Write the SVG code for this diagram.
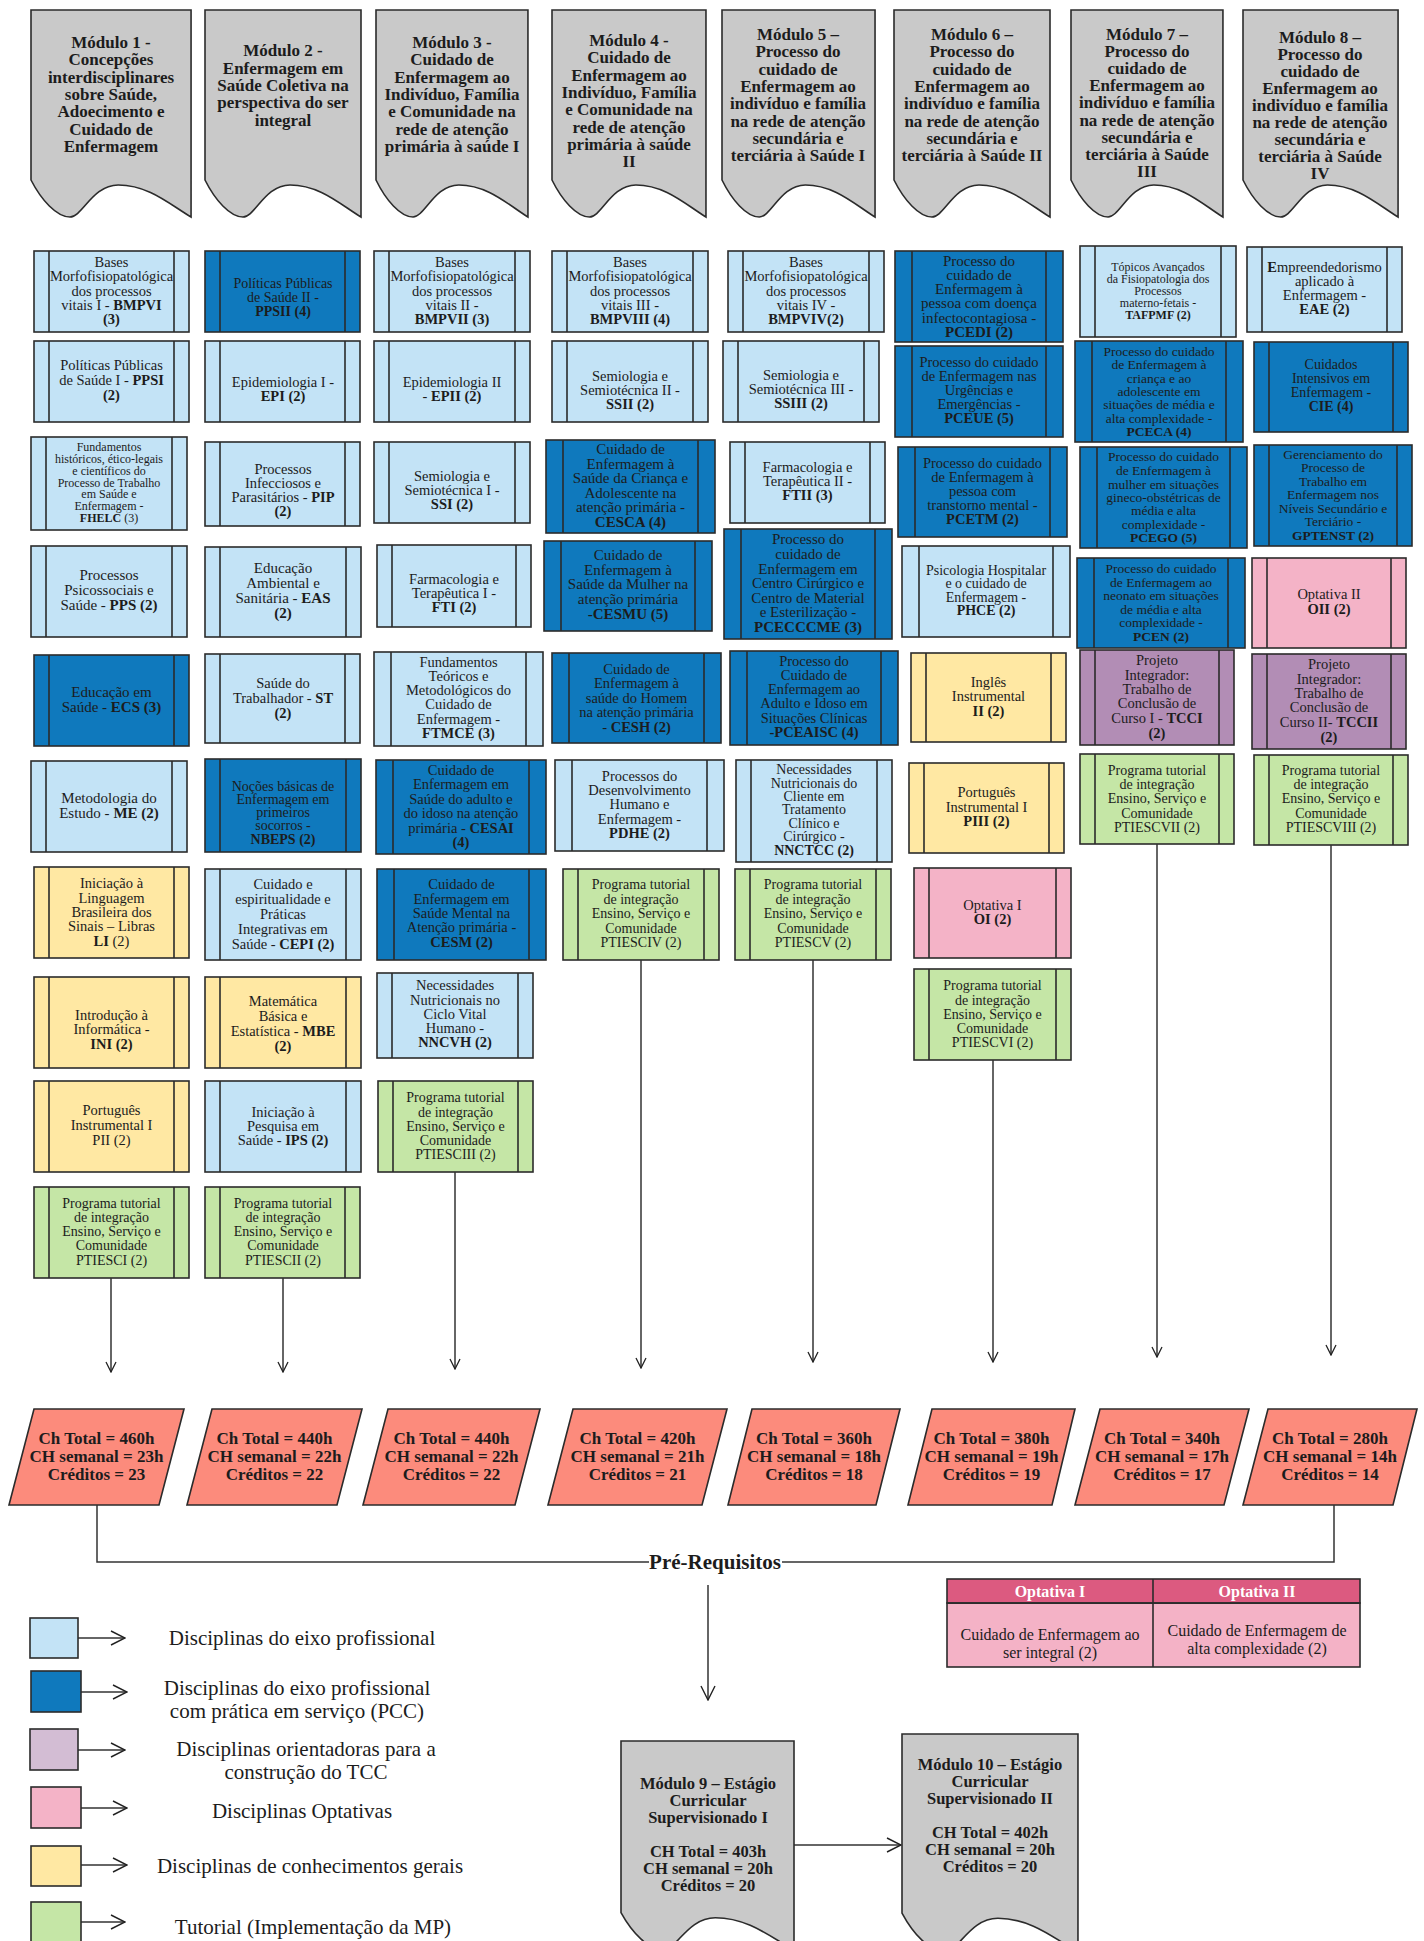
<svg xmlns="http://www.w3.org/2000/svg" width="1424" height="1941" viewBox="0 0 1424 1941">
<style>
.lb{fill:#c3e3f6}.db{fill:#0f79bd}.yl{fill:#ffe8a3}.gr{fill:#c5e6a6}.pk{fill:#f4b3c7}.pu{fill:#b28db5}.li{fill:#d3bdd4}
rect,.in,.hd,.pg{stroke:#2b2b2b;stroke-width:1.6}
.in{fill:none}
.hd{fill:#c9c9c9}
.pg{fill:#fc8b7c}
.t{font-family:"Liberation Serif","Times New Roman",serif;fill:#1c1c1c;text-anchor:middle}
.b{font-weight:bold}
.cn{stroke:#333;stroke-width:1.5;fill:none}
</style>
<defs>
<marker id="ah" viewBox="0 0 12 12" refX="11" refY="6" markerWidth="12" markerHeight="12" markerUnits="userSpaceOnUse" orient="auto"><path d="M1,1 L11,6 L1,11" fill="none" stroke="#222" stroke-width="1.3"/></marker>
<marker id="ahL" viewBox="0 0 16 16" refX="15" refY="8" markerWidth="16" markerHeight="16" markerUnits="userSpaceOnUse" orient="auto"><path d="M1,1 L15,8 L1,15" fill="none" stroke="#222" stroke-width="1.4"/></marker>
</defs>

<!-- Module headers -->
<g id="mod1"><path class="hd" vector-effect="non-scaling-stroke" transform="translate(31,10) scale(1.026,1)" d="M0,0 H156 V207 C136,195 115,175 85,175 C60,175 50,207 38,207 C25,207 10,190 0,170 Z"/>
<text class="t b" font-size="17"><tspan x="111" y="48">Módulo 1 -</tspan><tspan x="111" y="65">Concepções</tspan><tspan x="111" y="83">interdisciplinares</tspan><tspan x="111" y="100">sobre Saúde,</tspan><tspan x="111" y="117">Adoecimento e</tspan><tspan x="111" y="135">Cuidado de</tspan><tspan x="111" y="152">Enfermagem</tspan></text></g>
<g id="mod2"><path class="hd" vector-effect="non-scaling-stroke" transform="translate(205,10)" d="M0,0 H156 V207 C136,195 115,175 85,175 C60,175 50,207 38,207 C25,207 10,190 0,170 Z"/>
<text class="t b" font-size="17"><tspan x="283" y="56">Módulo 2 -</tspan><tspan x="283" y="74">Enfermagem em</tspan><tspan x="283" y="91">Saúde Coletiva na</tspan><tspan x="283" y="108">perspectiva do ser</tspan><tspan x="283" y="126">integral</tspan></text></g>
<g id="mod3"><path class="hd" vector-effect="non-scaling-stroke" transform="translate(376,10) scale(0.974,1)" d="M0,0 H156 V207 C136,195 115,175 85,175 C60,175 50,207 38,207 C25,207 10,190 0,170 Z"/>
<text class="t b" font-size="17"><tspan x="452" y="48">Módulo 3 -</tspan><tspan x="452" y="65">Cuidado de</tspan><tspan x="452" y="83">Enfermagem ao</tspan><tspan x="452" y="100">Indivíduo, Família</tspan><tspan x="452" y="117">e Comunidade na</tspan><tspan x="452" y="135">rede de atenção</tspan><tspan x="452" y="152">primária à saúde I</tspan></text></g>
<g id="mod4"><path class="hd" vector-effect="non-scaling-stroke" transform="translate(552,10) scale(0.987,1)" d="M0,0 H156 V207 C136,195 115,175 85,175 C60,175 50,207 38,207 C25,207 10,190 0,170 Z"/>
<text class="t b" font-size="17"><tspan x="629" y="46">Módulo 4 -</tspan><tspan x="629" y="63">Cuidado de</tspan><tspan x="629" y="81">Enfermagem ao</tspan><tspan x="629" y="98">Indivíduo, Família</tspan><tspan x="629" y="115">e Comunidade na</tspan><tspan x="629" y="133">rede de atenção</tspan><tspan x="629" y="150">primária à saúde</tspan><tspan x="629" y="167">II</tspan></text></g>
<g id="mod5"><path class="hd" vector-effect="non-scaling-stroke" transform="translate(722,10) scale(0.981,1)" d="M0,0 H156 V207 C136,195 115,175 85,175 C60,175 50,207 38,207 C25,207 10,190 0,170 Z"/>
<text class="t b" font-size="17"><tspan x="798" y="40">Módulo 5 –</tspan><tspan x="798" y="57">Processo do</tspan><tspan x="798" y="75">cuidado de</tspan><tspan x="798" y="92">Enfermagem ao</tspan><tspan x="798" y="109">indivíduo e família</tspan><tspan x="798" y="127">na rede de atenção</tspan><tspan x="798" y="144">secundária e</tspan><tspan x="798" y="161">terciária à Saúde I</tspan></text></g>
<g id="mod6"><path class="hd" vector-effect="non-scaling-stroke" transform="translate(894,10)" d="M0,0 H156 V207 C136,195 115,175 85,175 C60,175 50,207 38,207 C25,207 10,190 0,170 Z"/>
<text class="t b" font-size="17"><tspan x="972" y="40">Módulo 6 –</tspan><tspan x="972" y="57">Processo do</tspan><tspan x="972" y="75">cuidado de</tspan><tspan x="972" y="92">Enfermagem ao</tspan><tspan x="972" y="109">indivíduo e família</tspan><tspan x="972" y="127">na rede de atenção</tspan><tspan x="972" y="144">secundária e</tspan><tspan x="972" y="161">terciária à Saúde II</tspan></text></g>
<g id="mod7"><path class="hd" vector-effect="non-scaling-stroke" transform="translate(1071,10) scale(0.974,1)" d="M0,0 H156 V207 C136,195 115,175 85,175 C60,175 50,207 38,207 C25,207 10,190 0,170 Z"/>
<text class="t b" font-size="17"><tspan x="1147" y="40">Módulo 7 –</tspan><tspan x="1147" y="57">Processo do</tspan><tspan x="1147" y="74">cuidado de</tspan><tspan x="1147" y="91">Enfermagem ao</tspan><tspan x="1147" y="108">indivíduo e família</tspan><tspan x="1147" y="126">na rede de atenção</tspan><tspan x="1147" y="143">secundária e</tspan><tspan x="1147" y="160">terciária à Saúde</tspan><tspan x="1147" y="177">III</tspan></text></g>
<g id="mod8"><path class="hd" vector-effect="non-scaling-stroke" transform="translate(1243,10) scale(0.994,1)" d="M0,0 H156 V207 C136,195 115,175 85,175 C60,175 50,207 38,207 C25,207 10,190 0,170 Z"/>
<text class="t b" font-size="17"><tspan x="1320" y="43">Módulo 8 –</tspan><tspan x="1320" y="60">Processo do</tspan><tspan x="1320" y="77">cuidado de</tspan><tspan x="1320" y="94">Enfermagem ao</tspan><tspan x="1320" y="111">indivíduo e família</tspan><tspan x="1320" y="128">na rede de atenção</tspan><tspan x="1320" y="145">secundária e</tspan><tspan x="1320" y="162">terciária à Saúde</tspan><tspan x="1320" y="179">IV</tspan></text></g>

<!-- Column 1 -->
<g id="bmpvi"><rect class="lb" x="34" y="251" width="155" height="81"/><path class="in" d="M49,251V332M174,251V332"/><text class="t" font-size="14.5"><tspan x="111.5" y="267">Bases</tspan><tspan x="111.5" y="281">Morfofisiopatológica</tspan><tspan x="111.5" y="296">dos processos</tspan><tspan x="111.5" y="310">vitais I - <tspan class="b">BMPVI</tspan></tspan><tspan x="111.5" y="324" class="b">(3)</tspan></text></g>
<g id="ppsi"><rect class="lb" x="34" y="341" width="155" height="81"/><path class="in" d="M49,341V422M174,341V422"/><text class="t" font-size="14.5"><tspan x="111.5" y="370">Políticas Públicas</tspan><tspan x="111.5" y="385">de Saúde I - <tspan class="b">PPSI</tspan></tspan><tspan x="111.5" y="400" class="b">(2)</tspan></text></g>
<g id="fhelc"><rect class="lb" x="31" y="437" width="156" height="93"/><path class="in" d="M46,437V530M172,437V530"/><text class="t" font-size="12"><tspan x="109" y="451">Fundamentos</tspan><tspan x="109" y="463">históricos, ético-legais</tspan><tspan x="109" y="475">e científicos do</tspan><tspan x="109" y="487">Processo de Trabalho</tspan><tspan x="109" y="498">em Saúde e</tspan><tspan x="109" y="510">Enfermagem -</tspan><tspan x="109" y="522"><tspan class="b">FHELC</tspan> (3)</tspan></text></g>
<g id="pps"><rect class="lb" x="31" y="546" width="156" height="91"/><path class="in" d="M46,546V637M172,546V637"/><text class="t" font-size="15"><tspan x="109" y="580">Processos</tspan><tspan x="109" y="595">Psicossociais e</tspan><tspan x="109" y="610">Saúde - <tspan class="b">PPS (2)</tspan></tspan></text></g>
<g id="ecs"><rect class="db" x="34" y="655" width="155" height="91"/><path class="in" d="M49,655V746M174,655V746"/><text class="t" font-size="15"><tspan x="111.5" y="697">Educação em</tspan><tspan x="111.5" y="712">Saúde - <tspan class="b">ECS (3)</tspan></tspan></text></g>
<g id="me"><rect class="lb" x="31" y="761" width="156" height="91"/><path class="in" d="M46,761V852M172,761V852"/><text class="t" font-size="15"><tspan x="109" y="803">Metodologia do</tspan><tspan x="109" y="818">Estudo  - <tspan class="b">ME (2)</tspan></tspan></text></g>
<g id="li"><rect class="yl" x="34" y="867" width="155" height="91"/><path class="in" d="M49,867V958M174,867V958"/><text class="t" font-size="14.5"><tspan x="111.5" y="888">Iniciação à</tspan><tspan x="111.5" y="903">Linguagem</tspan><tspan x="111.5" y="917">Brasileira dos</tspan><tspan x="111.5" y="931">Sinais – Libras</tspan><tspan x="111.5" y="946"><tspan class="b">LI</tspan> (2)</tspan></text></g>
<g id="ini"><rect class="yl" x="34" y="977" width="155" height="91"/><path class="in" d="M49,977V1068M174,977V1068"/><text class="t" font-size="14.5"><tspan x="111.5" y="1020">Introdução à</tspan><tspan x="111.5" y="1034">Informática -</tspan><tspan x="111.5" y="1049" class="b">INI (2)</tspan></text></g>
<g id="pii"><rect class="yl" x="34" y="1081" width="155" height="91"/><path class="in" d="M49,1081V1172M174,1081V1172"/><text class="t" font-size="14.5"><tspan x="111.5" y="1115">Português</tspan><tspan x="111.5" y="1130">Instrumental I</tspan><tspan x="111.5" y="1145">PII (2)</tspan></text></g>
<g id="ptiesci"><rect class="gr" x="34" y="1187" width="155" height="91"/><path class="in" d="M49,1187V1278M174,1187V1278"/><text class="t" font-size="14"><tspan x="111.5" y="1208">Programa tutorial</tspan><tspan x="111.5" y="1222">de integração</tspan><tspan x="111.5" y="1236">Ensino, Serviço e</tspan><tspan x="111.5" y="1250">Comunidade</tspan><tspan x="111.5" y="1265">PTIESCI (2)</tspan></text></g>

<!-- Column 2 -->
<g id="ppsii"><rect class="db" x="205" y="251" width="155" height="81"/><path class="in" d="M220,251V332M345,251V332"/><text class="t" font-size="14"><tspan x="283" y="288">Políticas Públicas</tspan><tspan x="283" y="302">de Saúde II -</tspan><tspan x="283" y="316" class="b">PPSII (4)</tspan></text></g>
<g id="epi"><rect class="lb" x="205" y="341" width="155" height="81"/><path class="in" d="M220,341V422M345,341V422"/><text class="t" font-size="14.5"><tspan x="283" y="387">Epidemiologia I -</tspan><tspan x="283" y="401" class="b">EPI (2)</tspan></text></g>
<g id="pip"><rect class="lb" x="205" y="442" width="155" height="84"/><path class="in" d="M220,442V526M345,442V526"/><text class="t" font-size="14.5"><tspan x="283" y="474">Processos</tspan><tspan x="283" y="488">Infecciosos e</tspan><tspan x="283" y="502">Parasitários - <tspan class="b">PIP</tspan></tspan><tspan x="283" y="516" class="b">(2)</tspan></text></g>
<g id="eas"><rect class="lb" x="205" y="547" width="156" height="90"/><path class="in" d="M220,547V637M346,547V637"/><text class="t" font-size="15"><tspan x="283" y="573">Educação</tspan><tspan x="283" y="588">Ambiental e</tspan><tspan x="283" y="603">Sanitária  - <tspan class="b">EAS</tspan></tspan><tspan x="283" y="618" class="b">(2)</tspan></text></g>
<g id="st"><rect class="lb" x="205" y="654" width="155" height="89"/><path class="in" d="M220,654V743M345,654V743"/><text class="t" font-size="14.5"><tspan x="283" y="688">Saúde do</tspan><tspan x="283" y="703">Trabalhador - <tspan class="b">ST</tspan></tspan><tspan x="283" y="718" class="b">(2)</tspan></text></g>
<g id="nbeps"><rect class="db" x="205" y="759" width="156" height="93"/><path class="in" d="M220,759V852M346,759V852"/><text class="t" font-size="14"><tspan x="283" y="791">Noções básicas de</tspan><tspan x="283" y="804">Enfermagem em</tspan><tspan x="283" y="817">primeiros</tspan><tspan x="283" y="830">socorros -</tspan><tspan x="283" y="844" class="b">NBEPS (2)</tspan></text></g>
<g id="cepi"><rect class="lb" x="205" y="869" width="156" height="91"/><path class="in" d="M220,869V960M346,869V960"/><text class="t" font-size="14.5"><tspan x="283" y="889">Cuidado e</tspan><tspan x="283" y="904">espiritualidade e</tspan><tspan x="283" y="919">Práticas</tspan><tspan x="283" y="934">Integrativas em</tspan><tspan x="283" y="949">Saúde - <tspan class="b">CEPI (2)</tspan></tspan></text></g>
<g id="mbe"><rect class="yl" x="205" y="977" width="156" height="91"/><path class="in" d="M220,977V1068M346,977V1068"/><text class="t" font-size="14.5"><tspan x="283" y="1006">Matemática</tspan><tspan x="283" y="1021">Básica e</tspan><tspan x="283" y="1036">Estatística - <tspan class="b">MBE</tspan></tspan><tspan x="283" y="1051" class="b">(2)</tspan></text></g>
<g id="ips"><rect class="lb" x="205" y="1081" width="156" height="91"/><path class="in" d="M220,1081V1172M346,1081V1172"/><text class="t" font-size="14.5"><tspan x="283" y="1117">Iniciação à</tspan><tspan x="283" y="1131">Pesquisa em</tspan><tspan x="283" y="1145">Saúde - <tspan class="b">IPS (2)</tspan></tspan></text></g>
<g id="ptiescii"><rect class="gr" x="205" y="1187" width="155" height="91"/><path class="in" d="M220,1187V1278M345,1187V1278"/><text class="t" font-size="14"><tspan x="283" y="1208">Programa tutorial</tspan><tspan x="283" y="1222">de integração</tspan><tspan x="283" y="1236">Ensino, Serviço e</tspan><tspan x="283" y="1250">Comunidade</tspan><tspan x="283" y="1265">PTIESCII (2)</tspan></text></g>

<!-- Column 3 -->
<g id="bmpvii"><rect class="lb" x="374" y="251" width="156" height="81"/><path class="in" d="M389,251V332M515,251V332"/><text class="t" font-size="14.5"><tspan x="452" y="267">Bases</tspan><tspan x="452" y="281">Morfofisiopatológica</tspan><tspan x="452" y="296">dos processos</tspan><tspan x="452" y="310">vitais II -</tspan><tspan x="452" y="324" class="b">BMPVII (3)</tspan></text></g>
<g id="epii"><rect class="lb" x="374" y="341" width="156" height="81"/><path class="in" d="M389,341V422M515,341V422"/><text class="t" font-size="14.5"><tspan x="452" y="387">Epidemiologia II</tspan><tspan x="452" y="401">- <tspan class="b">EPII (2)</tspan></tspan></text></g>
<g id="ssi"><rect class="lb" x="374" y="442" width="156" height="81"/><path class="in" d="M389,442V523M515,442V523"/><text class="t" font-size="14.5"><tspan x="452" y="481">Semiologia e</tspan><tspan x="452" y="495">Semiotécnica I -</tspan><tspan x="452" y="509" class="b">SSI (2)</tspan></text></g>
<g id="fti"><rect class="lb" x="377" y="545" width="154" height="82"/><path class="in" d="M392,545V627M516,545V627"/><text class="t" font-size="14.5"><tspan x="454" y="584">Farmacologia e</tspan><tspan x="454" y="598">Terapêutica I -</tspan><tspan x="454" y="612" class="b">FTI (2)</tspan></text></g>
<g id="ftmce"><rect class="lb" x="374" y="652" width="169" height="94"/><path class="in" d="M391,652V746M526,652V746"/><text class="t" font-size="14.5"><tspan x="458.5" y="667">Fundamentos</tspan><tspan x="458.5" y="681">Teóricos e</tspan><tspan x="458.5" y="695">Metodológicos do</tspan><tspan x="458.5" y="709">Cuidado de</tspan><tspan x="458.5" y="724">Enfermagem -</tspan><tspan x="458.5" y="738" class="b">FTMCE (3)</tspan></text></g>
<g id="cesai"><rect class="db" x="376" y="760" width="170" height="94"/><path class="in" d="M393,760V854M529,760V854"/><text class="t" font-size="14.5"><tspan x="461" y="775">Cuidado de</tspan><tspan x="461" y="789">Enfermagem em</tspan><tspan x="461" y="804">Saúde do adulto e</tspan><tspan x="461" y="818">do idoso na atenção</tspan><tspan x="461" y="833">primária - <tspan class="b">CESAI</tspan></tspan><tspan x="461" y="847" class="b">(4)</tspan></text></g>
<g id="cesm"><rect class="db" x="377" y="869" width="169" height="91"/><path class="in" d="M394,869V960M529,869V960"/><text class="t" font-size="14.5"><tspan x="461.5" y="889">Cuidado de</tspan><tspan x="461.5" y="904">Enfermagem em</tspan><tspan x="461.5" y="918">Saúde Mental na</tspan><tspan x="461.5" y="932">Atenção primária -</tspan><tspan x="461.5" y="947" class="b">CESM (2)</tspan></text></g>
<g id="nncvh"><rect class="lb" x="377" y="973" width="156" height="85"/><path class="in" d="M392,973V1058M518,973V1058"/><text class="t" font-size="14.5"><tspan x="455" y="990">Necessidades</tspan><tspan x="455" y="1005">Nutricionais no</tspan><tspan x="455" y="1019">Ciclo Vital</tspan><tspan x="455" y="1033">Humano -</tspan><tspan x="455" y="1047" class="b">NNCVH (2)</tspan></text></g>
<g id="ptiesciii"><rect class="gr" x="378" y="1081" width="155" height="91"/><path class="in" d="M393,1081V1172M518,1081V1172"/><text class="t" font-size="14"><tspan x="455.5" y="1102">Programa tutorial</tspan><tspan x="455.5" y="1117">de integração</tspan><tspan x="455.5" y="1131">Ensino, Serviço e</tspan><tspan x="455.5" y="1145">Comunidade</tspan><tspan x="455.5" y="1159">PTIESCIII (2)</tspan></text></g>

<!-- Column 4 -->
<g id="bmpviii"><rect class="lb" x="552" y="251" width="156" height="81"/><path class="in" d="M567,251V332M693,251V332"/><text class="t" font-size="14.5"><tspan x="630" y="267">Bases</tspan><tspan x="630" y="281">Morfofisiopatológica</tspan><tspan x="630" y="296">dos processos</tspan><tspan x="630" y="310">vitais III -</tspan><tspan x="630" y="324" class="b">BMPVIII (4)</tspan></text></g>
<g id="ssii"><rect class="lb" x="552" y="341" width="156" height="81"/><path class="in" d="M567,341V422M693,341V422"/><text class="t" font-size="14.5"><tspan x="630" y="381">Semiologia e</tspan><tspan x="630" y="395">Semiotécnica II -</tspan><tspan x="630" y="409" class="b">SSII (2)</tspan></text></g>
<g id="cesca"><rect class="db" x="546" y="440" width="169" height="93"/><path class="in" d="M563,440V533M698,440V533"/><text class="t" font-size="15"><tspan x="630.5" y="454">Cuidado de</tspan><tspan x="630.5" y="469">Enfermagem à</tspan><tspan x="630.5" y="483">Saúde da Criança e</tspan><tspan x="630.5" y="498">Adolescente na</tspan><tspan x="630.5" y="512">atenção primária -</tspan><tspan x="630.5" y="527" class="b">CESCA (4)</tspan></text></g>
<g id="cesmu"><rect class="db" x="544" y="541" width="168" height="90"/><path class="in" d="M561,541V631M695,541V631"/><text class="t" font-size="15"><tspan x="628" y="560">Cuidado de</tspan><tspan x="628" y="575">Enfermagem à</tspan><tspan x="628" y="589">Saúde da Mulher na</tspan><tspan x="628" y="604">atenção primária</tspan><tspan x="628" y="619" class="b">-CESMU (5)</tspan></text></g>
<g id="cesh"><rect class="db" x="552" y="653" width="169" height="90"/><path class="in" d="M569,653V743M704,653V743"/><text class="t" font-size="14.5"><tspan x="636.5" y="674">Cuidado de</tspan><tspan x="636.5" y="688">Enfermagem à</tspan><tspan x="636.5" y="703">saúde do Homem</tspan><tspan x="636.5" y="717">na atenção primária</tspan><tspan x="636.5" y="732">- <tspan class="b">CESH (2)</tspan></tspan></text></g>
<g id="pdhe"><rect class="lb" x="555" y="760" width="169" height="91"/><path class="in" d="M572,760V851M707,760V851"/><text class="t" font-size="14.5"><tspan x="639.5" y="781">Processos do</tspan><tspan x="639.5" y="795">Desenvolvimento</tspan><tspan x="639.5" y="809">Humano e</tspan><tspan x="639.5" y="824">Enfermagem -</tspan><tspan x="639.5" y="838" class="b">PDHE (2)</tspan></text></g>
<g id="ptiesciv"><rect class="gr" x="563" y="869" width="156" height="91"/><path class="in" d="M578,869V960M704,869V960"/><text class="t" font-size="14"><tspan x="641" y="889">Programa tutorial</tspan><tspan x="641" y="904">de integração</tspan><tspan x="641" y="918">Ensino, Serviço e</tspan><tspan x="641" y="933">Comunidade</tspan><tspan x="641" y="947">PTIESCIV (2)</tspan></text></g>

<!-- Column 5 -->
<g id="bmpviv"><rect class="lb" x="728" y="251" width="156" height="81"/><path class="in" d="M743,251V332M869,251V332"/><text class="t" font-size="14.5"><tspan x="806" y="267">Bases</tspan><tspan x="806" y="281">Morfofisiopatológica</tspan><tspan x="806" y="296">dos processos</tspan><tspan x="806" y="310">vitais IV -</tspan><tspan x="806" y="324" class="b">BMPVIV(2)</tspan></text></g>
<g id="ssiii"><rect class="lb" x="723" y="341" width="156" height="81"/><path class="in" d="M738,341V422M864,341V422"/><text class="t" font-size="14.5"><tspan x="801" y="380">Semiologia e</tspan><tspan x="801" y="394">Semiotécnica III -</tspan><tspan x="801" y="408" class="b">SSIII (2)</tspan></text></g>
<g id="ftii"><rect class="lb" x="730" y="442" width="155" height="81"/><path class="in" d="M745,442V523M870,442V523"/><text class="t" font-size="14.5"><tspan x="807.5" y="472">Farmacologia e</tspan><tspan x="807.5" y="486">Terapêutica II -</tspan><tspan x="807.5" y="500" class="b">FTII (3)</tspan></text></g>
<g id="pcecccme"><rect class="db" x="724" y="529" width="168" height="110"/><path class="in" d="M741,529V639M875,529V639"/><text class="t" font-size="15"><tspan x="808" y="544">Processo do</tspan><tspan x="808" y="559">cuidado de</tspan><tspan x="808" y="574">Enfermagem em</tspan><tspan x="808" y="588">Centro Cirúrgico e</tspan><tspan x="808" y="603">Centro de Material</tspan><tspan x="808" y="617">e Esterilização -</tspan><tspan x="808" y="632" class="b">PCECCCME (3)</tspan></text></g>
<g id="pceaisc"><rect class="db" x="730" y="651" width="168" height="94"/><path class="in" d="M747,651V745M881,651V745"/><text class="t" font-size="14.5"><tspan x="814" y="666">Processo do</tspan><tspan x="814" y="680">Cuidado de</tspan><tspan x="814" y="694">Enfermagem ao</tspan><tspan x="814" y="708">Adulto e Idoso em</tspan><tspan x="814" y="723">Situações Clínicas</tspan><tspan x="814" y="737" class="b">-PCEAISC (4)</tspan></text></g>
<g id="nnctcc"><rect class="lb" x="736" y="760" width="156" height="102"/><path class="in" d="M751,760V862M877,760V862"/><text class="t" font-size="14"><tspan x="814" y="774">Necessidades</tspan><tspan x="814" y="788">Nutricionais do</tspan><tspan x="814" y="801">Cliente em</tspan><tspan x="814" y="814">Tratamento</tspan><tspan x="814" y="828">Clínico e</tspan><tspan x="814" y="841">Cirúrgico  -</tspan><tspan x="814" y="855" class="b">NNCTCC (2)</tspan></text></g>
<g id="ptiescv"><rect class="gr" x="735" y="869" width="156" height="91"/><path class="in" d="M750,869V960M876,869V960"/><text class="t" font-size="14"><tspan x="813" y="889">Programa tutorial</tspan><tspan x="813" y="904">de integração</tspan><tspan x="813" y="918">Ensino, Serviço e</tspan><tspan x="813" y="933">Comunidade</tspan><tspan x="813" y="947">PTIESCV (2)</tspan></text></g>

<!-- Column 6 -->
<g id="pcedi"><rect class="db" x="895" y="251" width="168" height="91"/><path class="in" d="M912,251V342M1046,251V342"/><text class="t" font-size="15"><tspan x="979" y="266">Processo do</tspan><tspan x="979" y="280">cuidado de</tspan><tspan x="979" y="294">Enfermagem à</tspan><tspan x="979" y="308">pessoa com doença</tspan><tspan x="979" y="323">infectocontagiosa -</tspan><tspan x="979" y="337" class="b">PCEDI (2)</tspan></text></g>
<g id="pceue"><rect class="db" x="895" y="346" width="168" height="91"/><path class="in" d="M912,346V437M1046,346V437"/><text class="t" font-size="14.5"><tspan x="979" y="367">Processo do cuidado</tspan><tspan x="979" y="381">de Enfermagem nas</tspan><tspan x="979" y="395">Urgências e</tspan><tspan x="979" y="409">Emergências -</tspan><tspan x="979" y="423" class="b">PCEUE (5)</tspan></text></g>
<g id="pcetm"><rect class="db" x="898" y="447" width="169" height="90"/><path class="in" d="M915,447V537M1050,447V537"/><text class="t" font-size="14.5"><tspan x="982.5" y="468">Processo do cuidado</tspan><tspan x="982.5" y="482">de Enfermagem à</tspan><tspan x="982.5" y="496">pessoa com</tspan><tspan x="982.5" y="510">transtorno mental -</tspan><tspan x="982.5" y="524" class="b">PCETM (2)</tspan></text></g>
<g id="phce"><rect class="lb" x="902" y="546" width="168" height="91"/><path class="in" d="M919,546V637M1053,546V637"/><text class="t" font-size="14"><tspan x="986" y="575">Psicologia Hospitalar</tspan><tspan x="986" y="588">e o cuidado de</tspan><tspan x="986" y="602">Enfermagem -</tspan><tspan x="986" y="615" class="b">PHCE (2)</tspan></text></g>
<g id="ingles"><rect class="yl" x="911" y="653" width="155" height="89"/><path class="in" d="M926,653V742M1051,653V742"/><text class="t" font-size="14.5"><tspan x="988.5" y="687">Inglês</tspan><tspan x="988.5" y="701">Instrumental</tspan><tspan x="988.5" y="716" class="b">II (2)</tspan></text></g>
<g id="piii"><rect class="yl" x="909" y="763" width="155" height="90"/><path class="in" d="M924,763V853M1049,763V853"/><text class="t" font-size="14.5"><tspan x="986.5" y="797">Português</tspan><tspan x="986.5" y="812">Instrumental I</tspan><tspan x="986.5" y="826" class="b">PIII (2)</tspan></text></g>
<g id="oi"><rect class="pk" x="914" y="868" width="157" height="90"/><path class="in" d="M929,868V958M1056,868V958"/><text class="t" font-size="14.5"><tspan x="992.5" y="910">Optativa I</tspan><tspan x="992.5" y="924" class="b">OI (2)</tspan></text></g>
<g id="ptiescvi"><rect class="gr" x="914" y="969" width="157" height="91"/><path class="in" d="M929,969V1060M1056,969V1060"/><text class="t" font-size="14"><tspan x="992.5" y="990">Programa tutorial</tspan><tspan x="992.5" y="1005">de integração</tspan><tspan x="992.5" y="1019">Ensino, Serviço e</tspan><tspan x="992.5" y="1033">Comunidade</tspan><tspan x="992.5" y="1047">PTIESCVI (2)</tspan></text></g>

<!-- Column 7 -->
<g id="tafpmf"><rect class="lb" x="1080" y="246" width="156" height="91"/><path class="in" d="M1095,246V337M1221,246V337"/><text class="t" font-size="12"><tspan x="1158" y="271">Tópicos Avançados</tspan><tspan x="1158" y="283">da Fisiopatologia dos</tspan><tspan x="1158" y="295">Processos</tspan><tspan x="1158" y="307">materno-fetais -</tspan><tspan x="1158" y="319" class="b">TAFPMF (2)</tspan></text></g>
<g id="pceca"><rect class="db" x="1075" y="341" width="168" height="101"/><path class="in" d="M1092,341V442M1226,341V442"/><text class="t" font-size="13.5"><tspan x="1159" y="356">Processo do cuidado</tspan><tspan x="1159" y="369">de Enfermagem à</tspan><tspan x="1159" y="383">criança e ao</tspan><tspan x="1159" y="396">adolescente em</tspan><tspan x="1159" y="409">situações de média e</tspan><tspan x="1159" y="423">alta complexidade -</tspan><tspan x="1159" y="436" class="b">PCECA (4)</tspan></text></g>
<g id="pcego"><rect class="db" x="1080" y="447" width="167" height="101"/><path class="in" d="M1097,447V548M1230,447V548"/><text class="t" font-size="13.5"><tspan x="1163.5" y="461">Processo do cuidado</tspan><tspan x="1163.5" y="475">de Enfermagem à</tspan><tspan x="1163.5" y="489">mulher em situações</tspan><tspan x="1163.5" y="502">gineco-obstétricas de</tspan><tspan x="1163.5" y="515">média e alta</tspan><tspan x="1163.5" y="529">complexidade -</tspan><tspan x="1163.5" y="542" class="b">PCEGO (5)</tspan></text></g>
<g id="pcen"><rect class="db" x="1077" y="558" width="168" height="90"/><path class="in" d="M1094,558V648M1228,558V648"/><text class="t" font-size="13.5"><tspan x="1161" y="573">Processo do cuidado</tspan><tspan x="1161" y="587">de Enfermagem ao</tspan><tspan x="1161" y="600">neonato em situações</tspan><tspan x="1161" y="614">de média e alta</tspan><tspan x="1161" y="627">complexidade -</tspan><tspan x="1161" y="641" class="b">PCEN (2)</tspan></text></g>
<g id="tcci"><rect class="pu" x="1080" y="650" width="154" height="95"/><path class="in" d="M1095,650V745M1219,650V745"/><text class="t" font-size="14.5"><tspan x="1157" y="665">Projeto</tspan><tspan x="1157" y="680">Integrador:</tspan><tspan x="1157" y="694">Trabalho de</tspan><tspan x="1157" y="708">Conclusão de</tspan><tspan x="1157" y="723">Curso I - <tspan class="b">TCCI</tspan></tspan><tspan x="1157" y="738" class="b">(2)</tspan></text></g>
<g id="ptiescvii"><rect class="gr" x="1080" y="754" width="154" height="90"/><path class="in" d="M1095,754V844M1219,754V844"/><text class="t" font-size="14"><tspan x="1157" y="775">Programa tutorial</tspan><tspan x="1157" y="789">de integração</tspan><tspan x="1157" y="803">Ensino, Serviço e</tspan><tspan x="1157" y="818">Comunidade</tspan><tspan x="1157" y="832">PTIESCVII (2)</tspan></text></g>

<!-- Column 8 -->
<g id="eae"><rect class="lb" x="1247" y="247" width="155" height="85"/><path class="in" d="M1262,247V332M1387,247V332"/><text class="t" font-size="14.5"><tspan x="1324.5" y="272"><tspan class="b">E</tspan>mpreendedorismo</tspan><tspan x="1324.5" y="286">aplicado à</tspan><tspan x="1324.5" y="300">Enfermagem -</tspan><tspan x="1324.5" y="314" class="b">EAE (2)</tspan></text></g>
<g id="cie"><rect class="db" x="1254" y="342" width="154" height="90"/><path class="in" d="M1269,342V432M1393,342V432"/><text class="t" font-size="14"><tspan x="1331" y="369">Cuidados</tspan><tspan x="1331" y="383">Intensivos em</tspan><tspan x="1331" y="397">Enfermagem -</tspan><tspan x="1331" y="411" class="b">CIE (4)</tspan></text></g>
<g id="gptenst"><rect class="db" x="1254" y="445" width="158" height="101"/><path class="in" d="M1269,445V546M1397,445V546"/><text class="t" font-size="13.5"><tspan x="1333" y="459">Gerenciamento do</tspan><tspan x="1333" y="472">Processo de</tspan><tspan x="1333" y="486">Trabalho em</tspan><tspan x="1333" y="499">Enfermagem nos</tspan><tspan x="1333" y="513">Níveis Secundário e</tspan><tspan x="1333" y="526">Terciário -</tspan><tspan x="1333" y="540" class="b">GPTENST (2)</tspan></text></g>
<g id="oii"><rect class="pk" x="1252" y="558" width="154" height="90"/><path class="in" d="M1267,558V648M1391,558V648"/><text class="t" font-size="14.5"><tspan x="1329" y="599">Optativa II</tspan><tspan x="1329" y="614" class="b">OII (2)</tspan></text></g>
<g id="tccii"><rect class="pu" x="1252" y="654" width="154" height="95"/><path class="in" d="M1267,654V749M1391,654V749"/><text class="t" font-size="14.5"><tspan x="1329" y="669">Projeto</tspan><tspan x="1329" y="684">Integrador:</tspan><tspan x="1329" y="698">Trabalho de</tspan><tspan x="1329" y="712">Conclusão de</tspan><tspan x="1329" y="727">Curso II- <tspan class="b">TCCII</tspan></tspan><tspan x="1329" y="742" class="b">(2)</tspan></text></g>
<g id="ptiescviii"><rect class="gr" x="1254" y="755" width="154" height="90"/><path class="in" d="M1269,755V845M1393,755V845"/><text class="t" font-size="14"><tspan x="1331" y="775">Programa tutorial</tspan><tspan x="1331" y="789">de integração</tspan><tspan x="1331" y="803">Ensino, Serviço e</tspan><tspan x="1331" y="818">Comunidade</tspan><tspan x="1331" y="832">PTIESCVIII (2)</tspan></text></g>

<!-- Totals -->
<g id="tot1"><polygon class="pg" points="34,1409 184,1409 159,1505 9,1505"/><text class="t b" font-size="17"><tspan x="96.5" y="1444">Ch Total = 460h</tspan><tspan x="96.5" y="1462">CH semanal = 23h</tspan><tspan x="96.5" y="1480">Créditos = 23</tspan></text></g>
<g id="tot2"><polygon class="pg" points="212,1409 362,1409 337,1505 187,1505"/><text class="t b" font-size="17"><tspan x="274.5" y="1444">Ch Total = 440h</tspan><tspan x="274.5" y="1462">CH semanal = 22h</tspan><tspan x="274.5" y="1480">Créditos = 22</tspan></text></g>
<g id="tot3"><polygon class="pg" points="388,1409 540,1409 515,1505 363,1505"/><text class="t b" font-size="17"><tspan x="451.5" y="1444">Ch Total = 440h</tspan><tspan x="451.5" y="1462">CH semanal = 22h</tspan><tspan x="451.5" y="1480">Créditos = 22</tspan></text></g>
<g id="tot4"><polygon class="pg" points="573,1409 727,1409 702,1505 548,1505"/><text class="t b" font-size="17"><tspan x="637.5" y="1444">Ch Total = 420h</tspan><tspan x="637.5" y="1462">CH semanal = 21h</tspan><tspan x="637.5" y="1480">Créditos = 21</tspan></text></g>
<g id="tot5"><polygon class="pg" points="752,1409 900,1409 876,1505 728,1505"/><text class="t b" font-size="17"><tspan x="814" y="1444">Ch Total = 360h</tspan><tspan x="814" y="1462">CH semanal = 18h</tspan><tspan x="814" y="1480">Créditos = 18</tspan></text></g>
<g id="tot6"><polygon class="pg" points="932,1409 1075,1409 1052,1505 908,1505"/><text class="t b" font-size="17"><tspan x="991.5" y="1444">Ch Total = 380h</tspan><tspan x="991.5" y="1462">CH semanal = 19h</tspan><tspan x="991.5" y="1480">Créditos = 19</tspan></text></g>
<g id="tot7"><polygon class="pg" points="1100,1409 1249,1409 1224,1505 1075,1505"/><text class="t b" font-size="17"><tspan x="1162" y="1444">Ch Total = 340h</tspan><tspan x="1162" y="1462">CH semanal = 17h</tspan><tspan x="1162" y="1480">Créditos = 17</tspan></text></g>
<g id="tot8"><polygon class="pg" points="1268,1409 1417,1409 1393,1505 1243,1505"/><text class="t b" font-size="17"><tspan x="1330" y="1444">Ch Total = 280h</tspan><tspan x="1330" y="1462">CH semanal = 14h</tspan><tspan x="1330" y="1480">Créditos = 14</tspan></text></g>

<!-- Connectors -->
<g id="connectors">
<path class="cn" marker-end="url(#ah)" d="M111,1278V1372"/>
<path class="cn" marker-end="url(#ah)" d="M283,1278V1372"/>
<path class="cn" marker-end="url(#ah)" d="M455,1172V1369"/>
<path class="cn" marker-end="url(#ah)" d="M641,960V1368"/>
<path class="cn" marker-end="url(#ah)" d="M813,960V1362"/>
<path class="cn" marker-end="url(#ah)" d="M993,1060V1362"/>
<path class="cn" marker-end="url(#ah)" d="M1157,844V1357"/>
<path class="cn" marker-end="url(#ah)" d="M1331,845V1355"/>
<path class="cn" d="M97,1505V1562H649"/>
<path class="cn" d="M782,1562H1334V1505"/>
<path class="cn" marker-end="url(#ahL)" d="M708,1585V1700"/>
<path class="cn" marker-end="url(#ahL)" d="M794,1845H901"/>
<path class="cn" marker-end="url(#ahL)" d="M78,1638H125"/>
<path class="cn" marker-end="url(#ahL)" d="M81,1692H127"/>
<path class="cn" marker-end="url(#ahL)" d="M78,1750H125"/>
<path class="cn" marker-end="url(#ahL)" d="M81,1808H127"/>
<path class="cn" marker-end="url(#ahL)" d="M81,1865H127"/>
<path class="cn" marker-end="url(#ahL)" d="M81,1922H125"/>
</g>
<text class="t b" font-size="21" x="715" y="1569">Pré-Requisitos</text>

<!-- Optativas table -->
<g id="optativas">
<rect x="947" y="1603" width="413" height="64" fill="#f4b2c6"/>
<rect x="947" y="1579" width="413" height="24" fill="#dc5a80"/>
<path class="in" d="M1153,1579V1667M947,1603H1360" stroke-width="2"/>
<text class="t b" font-size="16" style="fill:#fff"><tspan x="1050" y="1597">Optativa I</tspan><tspan x="1257" y="1597">Optativa II</tspan></text>
<text class="t" font-size="16"><tspan x="1050" y="1640">Cuidado de Enfermagem ao</tspan><tspan x="1050" y="1658">ser integral (2)</tspan><tspan x="1257" y="1636">Cuidado de Enfermagem de</tspan><tspan x="1257" y="1654">alta complexidade (2)</tspan></text>
</g>

<!-- Modules 9 and 10 -->
<g id="mod9"><path class="hd" vector-effect="non-scaling-stroke" transform="translate(621,1741) scale(1.109,1.01)" d="M0,0 H156 V207 C136,195 115,175 85,175 C60,175 50,207 38,207 C25,207 10,190 0,170 Z"/>
<text class="t b" font-size="16.5"><tspan x="708" y="1789">Módulo 9 – Estágio</tspan><tspan x="708" y="1806">Curricular</tspan><tspan x="708" y="1823">Supervisionado I</tspan><tspan x="708" y="1857">CH Total = 403h</tspan><tspan x="708" y="1874">CH semanal = 20h</tspan><tspan x="708" y="1891">Créditos = 20</tspan></text></g>
<g id="mod10"><path class="hd" vector-effect="non-scaling-stroke" transform="translate(902,1734) scale(1.128,1.053)" d="M0,0 H156 V207 C136,195 115,175 85,175 C60,175 50,207 38,207 C25,207 10,190 0,170 Z"/>
<text class="t b" font-size="16.5"><tspan x="990" y="1770">Módulo 10 – Estágio</tspan><tspan x="990" y="1787">Curricular</tspan><tspan x="990" y="1804">Supervisionado II</tspan><tspan x="990" y="1838">CH Total = 402h</tspan><tspan x="990" y="1855">CH semanal = 20h</tspan><tspan x="990" y="1872">Créditos = 20</tspan></text></g>

<!-- Legend -->
<g id="legend">
<rect class="lb" x="30" y="1618" width="48" height="40"/>
<rect class="db" x="31" y="1671" width="50" height="41"/>
<rect class="li" x="30" y="1729" width="48" height="41"/>
<rect class="pk" x="31" y="1787" width="50" height="41"/>
<rect class="yl" x="31" y="1846" width="50" height="40"/>
<rect class="gr" x="31" y="1902" width="50" height="45"/>
<text class="t" font-size="21"><tspan x="302" y="1645">Disciplinas do eixo profissional</tspan><tspan x="297" y="1695">Disciplinas do eixo profissional</tspan><tspan x="297" y="1718">com prática em serviço (PCC)</tspan><tspan x="306" y="1756">Disciplinas orientadoras  para a</tspan><tspan x="306" y="1779">construção do TCC</tspan><tspan x="302" y="1818">Disciplinas Optativas</tspan><tspan x="310" y="1873">Disciplinas de conhecimentos gerais</tspan><tspan x="313" y="1934">Tutorial (Implementação da MP)</tspan></text>
</g>
</svg>
